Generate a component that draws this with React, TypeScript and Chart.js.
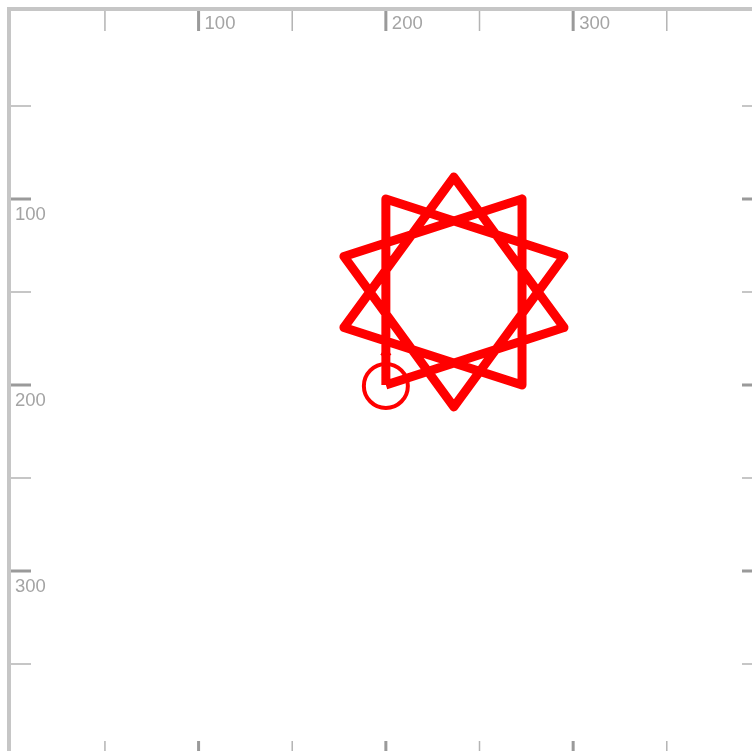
import React, { useEffect, useRef } from 'react';
import { Chart, registerables } from 'chart.js';

Chart.register(...registerables);

// Star path ({10/3}) vertices in canvas units (y grows downward)
const starX = [200, 200, 295.1, 236.3, 177.6, 272.7, 272.7, 177.6, 236.3, 295.1, 200];
const starY = [200, 100, 130.9, 211.8, 130.9, 100, 200, 169.1, 88.2, 169.1, 200];

// Turtle position and heading marker
const turtleX = [200];
const turtleY = [200.5];
const headX = [197.5, 200, 202.5];
const headY = [184, 180, 184];

// Ruler ticks
const tickValues = [50, 100, 150, 200, 250, 300, 350];
const labelledTicks = [100, 200, 300];
const tickLabels = ['100', '200', '300'];

const X_MAX = 395.5;
const Y_MAX = 396.8;

const W = 752;
const H = 751;

const rulerPlugin = {
  id: 'ruler',
  beforeDatasetsDraw(chart: any) {
    const ctx = chart.ctx;
    const xs = chart.scales.x;
    const ys = chart.scales.y;
    ctx.save();
    ctx.fillStyle = '#c6c6c6';
    ctx.fillRect(7, 7, W - 7, 4);
    ctx.fillRect(7, 7, 4, H - 7);
    tickValues.forEach((v) => {
      const major = labelledTicks.includes(v);
      const px = xs.getPixelForValue(v);
      const py = ys.getPixelForValue(v);
      ctx.strokeStyle = major ? '#9a9a9a' : '#b4b4b4';
      ctx.lineWidth = major ? 3 : 1.5;
      ctx.beginPath();
      ctx.moveTo(px, 11);
      ctx.lineTo(px, 31);
      ctx.moveTo(px, H - 10);
      ctx.lineTo(px, H + 10);
      ctx.moveTo(11, py);
      ctx.lineTo(31, py);
      ctx.moveTo(W - 10, py);
      ctx.lineTo(W + 10, py);
      ctx.stroke();
    });
    ctx.fillStyle = '#a4a4a4';
    ctx.font = '18.5px "Liberation Sans", Arial, sans-serif';
    ctx.textAlign = 'left';
    ctx.textBaseline = 'alphabetic';
    labelledTicks.forEach((v, i) => {
      const px = xs.getPixelForValue(v);
      const py = ys.getPixelForValue(v);
      ctx.fillText(tickLabels[i], px + 6, 29);
      ctx.fillText(tickLabels[i], 15, py + 21);
    });
    ctx.restore();
  },
};

export default function App() {
  const ref = useRef<HTMLCanvasElement | null>(null);
  useEffect(() => {
    if (!ref.current) return;
    const chart = new Chart(ref.current, {
      type: 'scatter',
      data: {
        datasets: [
          {
            data: starX.map((x, i) => ({ x, y: starY[i] })),
            showLine: true,
            borderColor: '#ff0000',
            borderWidth: 9,
            borderJoinStyle: 'round',
            borderCapStyle: 'butt',
            pointRadius: 0,
            tension: 0,
            fill: false,
          } as any,
          {
            data: turtleX.map((x, i) => ({ x, y: turtleY[i] })),
            showLine: false,
            pointRadius: 22,
            pointBorderWidth: 4,
            pointBorderColor: '#ff0000',
            pointBackgroundColor: 'rgba(0,0,0,0)',
          } as any,
          {
            data: headX.map((x, i) => ({ x, y: headY[i] })),
            showLine: true,
            borderColor: '#ff0000',
            borderWidth: 2,
            pointRadius: 0,
            tension: 0,
          } as any,
        ],
      },
      options: {
        responsive: false,
        animation: false,
        devicePixelRatio: 1,
        layout: { autoPadding: false, padding: { left: 11.3, top: 13, right: 0, bottom: 0 } },
        plugins: { legend: { display: false }, tooltip: { enabled: false } },
        scales: {
          x: { type: 'linear', min: 0, max: X_MAX, display: false },
          y: { type: 'linear', min: 0, max: Y_MAX, reverse: true, display: false },
        },
      },
      plugins: [rulerPlugin],
    });
    return () => chart.destroy();
  }, []);
  return (
    <div style={{ position: 'fixed', left: 0, top: 0, width: W, height: H, overflow: 'hidden', background: '#fff' }}>
      <canvas ref={ref} width={W} height={H} style={{ display: 'block', width: W, height: H }} />
    </div>
  );
}
